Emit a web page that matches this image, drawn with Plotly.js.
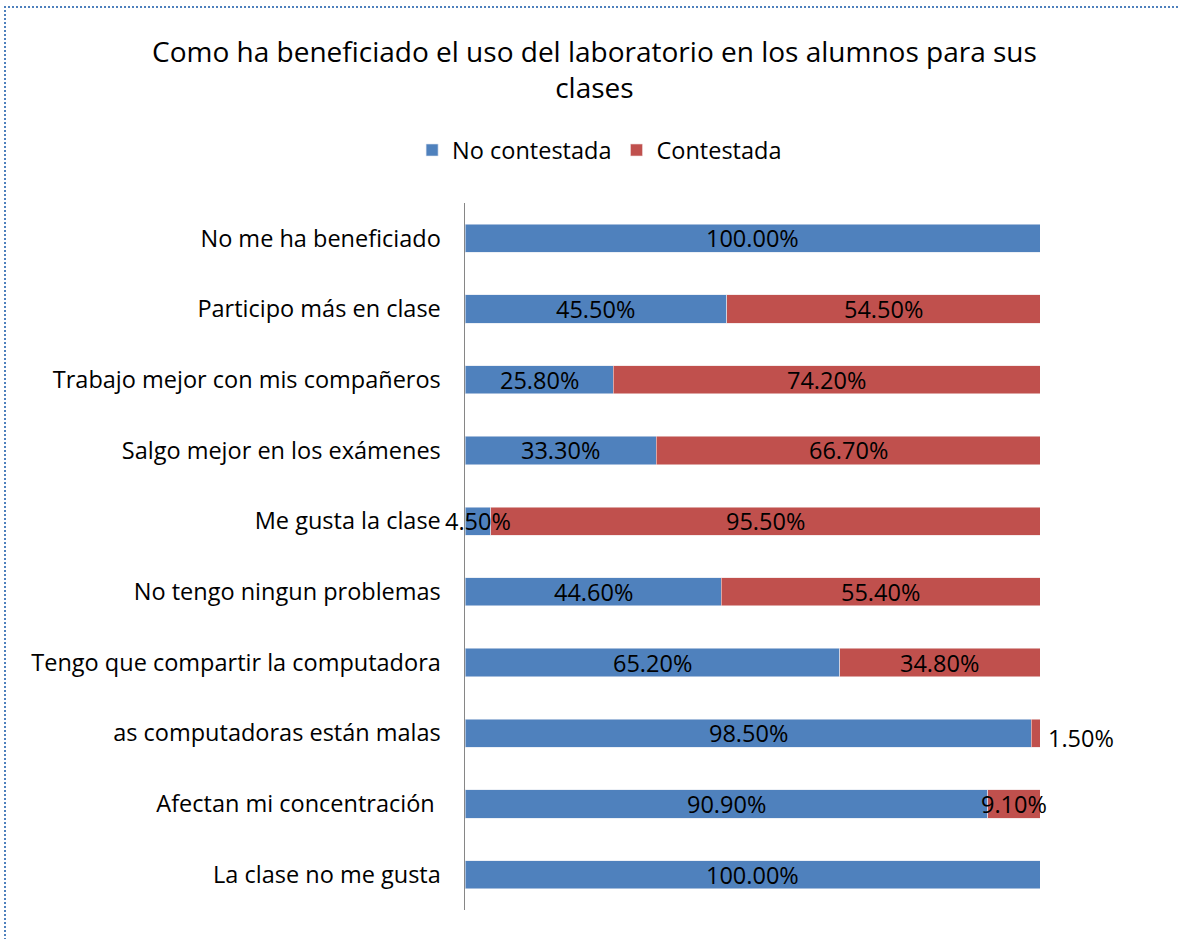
<!DOCTYPE html>
<html>
<head>
<meta charset="utf-8">
<script src="https://cdn.plot.ly/plotly-3.0.1.min.js"></script>
<style>
  html, body { margin: 0; padding: 0; background: #fff; }
  #wrap { position: relative; width: 1178px; height: 939px; overflow: hidden; }
  #chart { position: absolute; left: 0; top: 0; width: 1178px; height: 939px; }
  #frame { position: absolute; left: 4px; top: 6px; width: 1200px; height: 1000px;
           border-top: 2px dotted #4F81BD; border-left: 2px dotted #4F81BD; pointer-events: none; }
</style>
</head>
<body>
<div id="wrap">
  <div id="chart"></div>
  <div id="frame"></div>
</div>
<script>
const categories = [
  "No me ha beneficiado",
  "Participo más en clase",
  "Trabajo mejor con mis compañeros",
  "Salgo mejor en los exámenes",
  "Me gusta la clase",
  "No tengo ningun problemas",
  "Tengo que compartir la computadora",
  "as computadoras están malas",
  "Afectan mi concentración ",
  "La clase no me gusta"
];
const noContestada = [100.0, 45.5, 25.8, 33.3, 4.5, 44.6, 65.2, 98.5, 90.9, 100.0];
const contestada   = [0.0, 54.5, 74.2, 66.7, 95.5, 55.4, 34.8, 1.5, 9.1, 0.0];
const seriesNames = ['No contestada', 'Contestada'];
const chartTitle = 'Como ha beneficiado el uso del laboratorio en los alumnos para sus<br>clases';

const fmt = v => v.toFixed(2) + '%';
const FONT = 'Open Sans, sans-serif';
const SIZE = 23.5;
const labelFont = { family: FONT, size: SIZE, color: '#000' };

const traces = [
  {
    type: 'bar', orientation: 'h', name: seriesNames[0],
    y: categories, x: noContestada,
    marker: { color: '#4F81BD', line: { color: '#dfe6f0', width: 0.6 } },
    width: 0.4, hoverinfo: 'none', textposition: 'none'
  },
  {
    type: 'bar', orientation: 'h', name: seriesNames[1],
    y: categories, x: contestada,
    marker: { color: '#C0504D', line: { color: '#f0dede', width: 0.6 } },
    width: 0.4, hoverinfo: 'none', textposition: 'none'
  }
];

// data labels as annotations so they sit above every bar
const annotations = [];
categories.forEach((c, i) => {
  if (noContestada[i] > 0) {
    annotations.push({
      x: noContestada[i] / 2, y: c, xref: 'x', yref: 'y',
      text: fmt(noContestada[i]), showarrow: false, font: labelFont,
      xanchor: 'center', yanchor: 'middle'
    });
  }
  if (contestada[i] > 0) {
    const outside = contestada[i] < 3;
    annotations.push({
      x: outside ? noContestada[i] + contestada[i] : noContestada[i] + contestada[i] / 2,
      y: c, xref: 'x', yref: 'y',
      text: fmt(contestada[i]), showarrow: false, font: labelFont,
      xanchor: outside ? 'left' : 'center', yanchor: 'middle',
      xshift: outside ? 6 : 0, yshift: outside ? -5 : 0
    });
  }
});

// chart title
annotations.push({
  text: chartTitle, showarrow: false,
  xref: 'paper', yref: 'paper', x: 0.226, y: 1.19,
  xanchor: 'center', yanchor: 'middle', align: 'center',
  font: { family: FONT, size: 28, color: '#000' }
});

const layout = {
  width: 1178, height: 939,
  barmode: 'stack',
  paper_bgcolor: 'rgba(0,0,0,0)', plot_bgcolor: 'rgba(0,0,0,0)',
  margin: { l: 465, r: 138, t: 203, b: 29, pad: 0 },
  showlegend: true,
  legend: {
    orientation: 'h', x: 0.509, xref: 'container', xanchor: 'center',
    y: 0.84, yref: 'container', yanchor: 'middle',
    font: { family: FONT, size: SIZE, color: '#000' },
    traceorder: 'normal', itemwidth: 30
  },
  annotations: annotations,
  xaxis: { range: [0, 100], visible: false, fixedrange: true },
  yaxis: {
    type: 'category', categoryorder: 'array', categoryarray: categories,
    autorange: 'reversed',
    showline: true, linecolor: '#868686', linewidth: 1.5,
    ticks: '', ticklabelstandoff: 18,
    tickfont: { family: FONT, size: SIZE, color: '#000' },
    showgrid: false, zeroline: false, fixedrange: true
  }
};

Plotly.newPlot('chart', traces, layout, { displayModeBar: false, staticPlot: true });
</script>
</body>
</html>
